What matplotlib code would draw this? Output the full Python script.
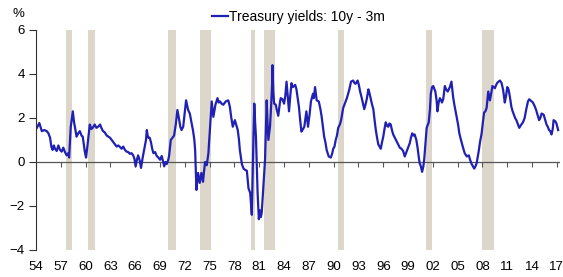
import numpy as np
import matplotlib
matplotlib.use("Agg")
import matplotlib.pyplot as plt

plt.rcParams['font.family'] = ['Liberation Sans', 'DejaVu Sans']

# 10y - 3m treasury spread (decimal year, %)
years = [
    1954.0, 1954.1, 1954.4, 1954.7, 1955.0, 1955.3, 1955.5, 1955.7, 1955.85, 1956.0,
    1956.15, 1956.3, 1956.5, 1956.7, 1956.9, 1957.1, 1957.3, 1957.5, 1957.7, 1957.9,
    1958.0, 1958.2, 1958.45, 1958.6, 1958.7, 1958.9, 1959.1, 1959.3, 1959.5, 1959.65,
    1959.9, 1960.05, 1960.3, 1960.5, 1960.7, 1960.85, 1961.1, 1961.3, 1961.5, 1961.75,
    1961.9, 1962.1, 1962.3, 1962.55, 1962.75, 1962.95, 1963.15, 1963.35, 1963.55, 1963.75,
    1963.95, 1964.15, 1964.35, 1964.55, 1964.75, 1964.95, 1965.15, 1965.35, 1965.55, 1965.75,
    1965.9, 1966.05, 1966.2, 1966.35, 1966.55, 1966.7, 1966.9, 1967.1, 1967.3, 1967.4,
    1967.5, 1967.6, 1967.75, 1967.9, 1968.05, 1968.2, 1968.4, 1968.6, 1968.8, 1969.0,
    1969.2, 1969.35, 1969.5, 1969.65, 1969.8, 1970.0, 1970.1, 1970.3, 1970.5, 1970.7,
    1970.9, 1971.1, 1971.3, 1971.45, 1971.6, 1971.8, 1972.0, 1972.15, 1972.4, 1972.6,
    1972.8, 1973.0, 1973.15, 1973.25, 1973.4, 1973.5, 1973.6, 1973.8, 1974.0, 1974.2,
    1974.3, 1974.45, 1974.65, 1974.85, 1975.05, 1975.25, 1975.45, 1975.7, 1975.95, 1976.1,
    1976.25, 1976.45, 1976.65, 1976.95, 1977.25, 1977.45, 1977.6, 1977.8, 1978.05, 1978.2,
    1978.4, 1978.55, 1978.65, 1978.9, 1979.1, 1979.25, 1979.5, 1979.6, 1979.7, 1979.9,
    1980.05, 1980.1, 1980.2, 1980.3, 1980.4, 1980.5, 1980.6, 1980.7, 1980.8, 1980.95,
    1981.1, 1981.2, 1981.3, 1981.5, 1981.6, 1981.7, 1981.8, 1981.9, 1982.0, 1982.1,
    1982.3, 1982.45, 1982.55, 1982.6, 1982.7, 1982.8, 1983.0, 1983.1, 1983.3, 1983.5,
    1983.6, 1983.8, 1984.0, 1984.15, 1984.3, 1984.45, 1984.6, 1984.75, 1984.9, 1985.05,
    1985.2, 1985.35, 1985.5, 1985.65, 1985.8, 1985.95, 1986.1, 1986.3, 1986.45, 1986.6,
    1986.7, 1986.9, 1987.1, 1987.25, 1987.5, 1987.6, 1987.75, 1987.95, 1988.2, 1988.4,
    1988.55, 1988.7, 1988.85, 1989.0, 1989.15, 1989.4, 1989.65, 1989.8, 1989.95, 1990.1,
    1990.25, 1990.4, 1990.55, 1990.75, 1990.9, 1991.15, 1991.45, 1991.6, 1991.75, 1991.9,
    1992.1, 1992.35, 1992.5, 1992.65, 1992.9, 1993.05, 1993.2, 1993.4, 1993.7, 1993.85,
    1994.0, 1994.2, 1994.35, 1994.5, 1994.65, 1994.8, 1994.95, 1995.1, 1995.25, 1995.4,
    1995.55, 1995.7, 1995.85, 1996.0, 1996.15, 1996.3, 1996.45, 1996.6, 1996.75, 1996.9,
    1997.05, 1997.2, 1997.4, 1997.6, 1997.8, 1998.0, 1998.2, 1998.4, 1998.6, 1998.75,
    1998.9, 1999.05, 1999.2, 1999.35, 1999.5, 1999.65, 1999.8, 2000.0, 2000.15, 2000.3,
    2000.4, 2000.55, 2000.7, 2000.85, 2000.95, 2001.1, 2001.25, 2001.5, 2001.65, 2001.75,
    2001.9, 2002.05, 2002.2, 2002.3, 2002.45, 2002.55, 2002.7, 2002.85, 2003.0, 2003.1,
    2003.25, 2003.45, 2003.6, 2003.8, 2004.05, 2004.25, 2004.45, 2004.6, 2004.75, 2004.9,
    2005.05, 2005.2, 2005.4, 2005.65, 2005.85, 2006.1, 2006.35, 2006.5, 2006.7, 2006.85,
    2007.0, 2007.15, 2007.3, 2007.55, 2007.7, 2007.9, 2008.05, 2008.2, 2008.35, 2008.5,
    2008.7, 2008.9, 2009.05, 2009.2, 2009.35, 2009.5, 2009.65, 2009.8, 2010.1, 2010.3,
    2010.5, 2010.7, 2010.85, 2011.0, 2011.15, 2011.3, 2011.5, 2011.65, 2011.8, 2011.95,
    2012.1, 2012.3, 2012.45, 2012.7, 2012.9, 2013.1, 2013.3, 2013.5, 2013.65, 2013.8,
    2014.1, 2014.3, 2014.5, 2014.7, 2014.85, 2015.0, 2015.15, 2015.4, 2015.55, 2015.75,
    2015.9, 2016.05, 2016.2, 2016.35, 2016.5, 2016.6, 2016.8, 2016.95, 2017.15,
]
spread = [
    1.5, 1.55, 1.77, 1.4, 1.45, 1.4, 1.3, 1.1, 0.7, 0.55,
    0.75, 0.6, 0.5, 0.75, 0.55, 0.47, 0.65, 0.45, 0.3, 0.4,
    0.2, 1.6, 2.3, 1.8, 1.6, 1.15, 1.3, 1.4, 1.2, 1.15,
    0.47, 0.2, 1.0, 1.7, 1.5, 1.55, 1.7, 1.55, 1.6, 1.7,
    1.55, 1.4, 1.35, 1.2, 1.15, 1.1, 1.0, 0.9, 0.8, 0.7,
    0.75, 0.68, 0.6, 0.7, 0.55, 0.47, 0.45, 0.37, 0.4, 0.3,
    0.15, -0.2, 0.1, 0.3, 0.05, -0.27, 0.2, 0.6, 1.0, 1.45,
    1.2, 1.1, 1.1, 0.9, 0.6, 0.4, 0.45, 0.27, 0.2, 0.1,
    0.27, 0.05, -0.2, 0.0, -0.1, 0.1, 0.3, 1.0, 1.1, 1.2,
    1.7, 2.36, 1.95, 1.6, 1.45, 1.6, 2.3, 2.8, 2.36, 2.2,
    1.8, 1.4, 1.0, 0.5, -1.27, -0.9, -0.5, -0.95, -0.5, -0.9,
    -0.5, 0.0, -0.15, 0.4, 1.6, 2.75, 2.05, 2.6, 2.9, 2.7,
    2.75, 2.65, 2.6, 2.75, 2.8, 2.5, 2.05, 1.6, 1.9, 1.7,
    1.45, 1.0, 0.55, -0.1, -0.3, -0.35, -0.4, -0.8, -1.2, -1.4,
    -2.2, -2.4, -0.5, 1.15, 2.65, 1.8, 1.15, -0.2, -1.4, -2.6,
    -2.2, -2.5, -2.3, -1.1, -0.5, 0.1, 1.5, 2.8, 1.8, 1.0,
    1.6, 2.65, 3.5, 4.4, 3.2, 2.65, 2.6, 2.4, 2.1, 2.7,
    2.9, 2.85, 2.65, 3.0, 3.65, 3.0, 2.3, 3.0, 3.58, 3.4,
    3.45, 3.5, 3.3, 2.9, 2.5, 1.9, 1.38, 1.5, 1.6, 2.0,
    2.3, 1.6, 2.2, 2.75, 3.1, 2.9, 3.4, 2.8, 2.75, 2.4,
    2.05, 1.6, 1.15, 0.9, 0.55, 0.25, 0.2, 0.35, 0.6, 0.7,
    1.0, 1.2, 1.55, 1.7, 1.9, 2.45, 2.75, 2.9, 3.1, 3.3,
    3.65, 3.7, 3.6, 3.55, 3.7, 3.5, 3.2, 2.9, 2.4, 2.6,
    2.85, 3.3, 3.1, 2.85, 2.6, 2.4, 1.9, 1.45, 1.1, 0.8,
    0.7, 0.6, 0.9, 1.15, 1.5, 1.8, 1.65, 1.6, 1.75, 1.7,
    1.45, 1.25, 1.1, 0.95, 0.8, 0.65, 0.6, 0.5, 0.25, 0.4,
    0.55, 0.7, 0.85, 1.1, 1.3, 1.2, 1.25, 1.0, 0.65, 0.2,
    -0.05, -0.2, -0.45, -0.2, 0.1, 0.8, 1.55, 1.8, 2.4, 3.1,
    3.4, 3.45, 3.3, 3.2, 2.8, 2.3, 2.7, 2.9, 2.8, 2.7,
    2.85, 3.45, 3.3, 3.2, 3.4, 3.65, 2.95, 2.6, 2.3, 2.0,
    1.7, 1.3, 1.0, 0.65, 0.4, 0.25, 0.3, 0.1, -0.1, -0.2,
    -0.3, -0.2, -0.05, 0.5, 0.9, 1.3, 1.8, 2.25, 2.3, 2.45,
    3.2, 2.8, 3.1, 3.45, 3.4, 3.35, 3.5, 3.6, 3.7, 3.6,
    3.27, 2.7, 3.0, 3.4, 3.3, 3.0, 2.5, 2.3, 2.15, 2.0,
    1.9, 1.7, 1.55, 1.7, 1.8, 2.0, 2.4, 2.75, 2.85, 2.8,
    2.7, 2.55, 2.35, 2.1, 1.9, 2.0, 2.2, 2.15, 1.95, 1.7,
    1.6, 1.45, 1.4, 1.25, 1.5, 1.9, 1.85, 1.75, 1.45,
]

# US recessions (start, end)
recessions = [(1957.6, 1958.33), (1960.33, 1961.1), (1969.92, 1970.9),
              (1973.85, 1975.2), (1980.05, 1980.5), (1981.55, 1982.85),
              (1990.55, 1991.2), (2001.2, 2001.85), (2007.92, 2009.4)]

tick_years = list(range(1954, 2018, 3))
tick_labels = [f"{y % 100:02d}" for y in tick_years]

fig = plt.figure(figsize=(5.63, 2.77), dpi=100)
ax = fig.add_axes([0.064, 0.0975, 0.931, 0.7945])

for start, end in recessions:
    ax.axvspan(start, end, color='#dcd7ca', lw=0, zorder=0)

ax.axhline(0, color='#555555', lw=0.9, zorder=1)
ax.vlines(tick_years, -0.22, 0, color='#555555', lw=0.8, zorder=1)

ax.plot(years, spread, color='#2020b4', lw=1.6, zorder=2,
        label='Treasury yields: 10y - 3m')

ax.set_xlim(1954, 2017.4)
ax.set_ylim(-4, 6)
ax.set_yticks([-4, -2, 0, 2, 4, 6])
ax.set_xticks(tick_years)
ax.set_xticklabels(tick_labels)

for side in ['top', 'right', 'bottom']:
    ax.spines[side].set_visible(False)
ax.spines['left'].set_color('#333333')
ax.tick_params(axis='y', length=5, width=0.8, color='#333333', labelsize=9.5, pad=3)
ax.tick_params(axis='x', length=0, labelsize=9.5, pad=8)

ax.legend(loc='center', bbox_to_anchor=(0.53, 0.939), bbox_transform=fig.transFigure,
          frameon=False, fontsize=10, handlelength=1.2, handletextpad=0.05,
          borderpad=0, borderaxespad=0)
fig.text(0.032, 0.95, '%', fontsize=9.5, ha='center', va='center')

fig.savefig('out.png', dpi=100)
